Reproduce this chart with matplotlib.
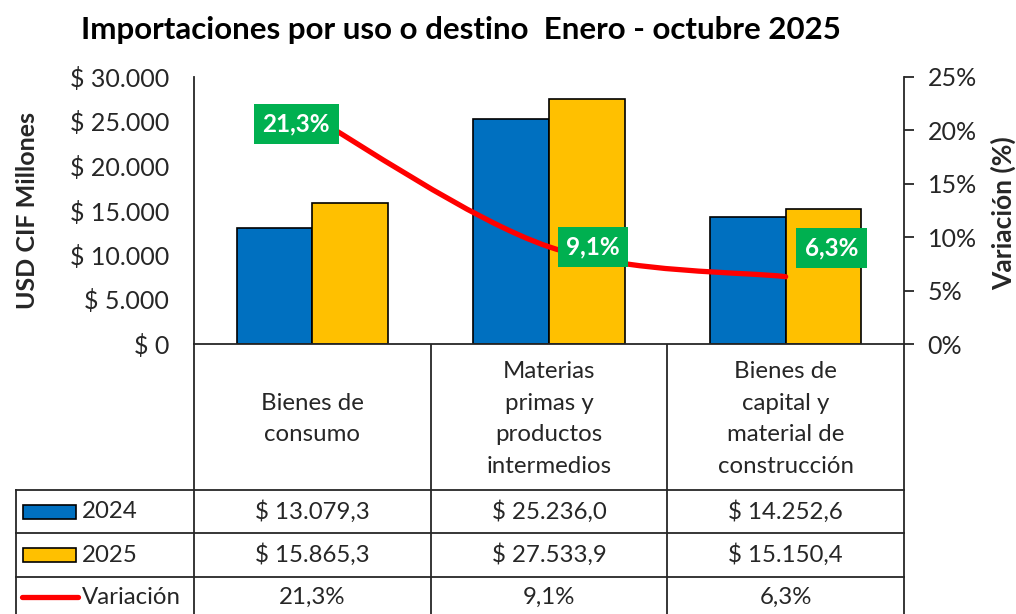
import numpy as np
import matplotlib
matplotlib.use('Agg')
import matplotlib.pyplot as plt
from matplotlib.path import Path
from matplotlib.patches import PathPatch, Rectangle
from matplotlib.ticker import FuncFormatter

plt.rcParams['font.family'] = ['Lato', 'DejaVu Sans']

# Data
categories = ['Bienes de\nconsumo', 'Materias\nprimas y\nproductos\nintermedios',
              'Bienes de\ncapital y\nmaterial de\nconstrucción']
series_names = ['2024', '2025']
values_2024 = [13079.3, 25236.0, 14252.6]
values_2025 = [15865.3, 27533.9, 15150.4]
variacion = [21.3, 9.1, 6.3]
var_label = 'Variación'
title = 'Importaciones por uso o destino  Enero - octubre 2025'

BLUE = '#0070C0'
YELLOW = '#FFC000'
RED = '#FF0000'
GREEN = '#00B050'
TXT = '#262626'

W, H = 1016, 614
fig = plt.figure(figsize=(W / 100, H / 100), dpi=100)

# plot area in pixels
pl, pr, pt, pb = 194, 904, 77, 344
ax = fig.add_axes([pl / W, 1 - pb / H, (pr - pl) / W, (pb - pt) / H])
ax2 = ax.twinx()

x = np.arange(len(categories))
bw = 0.32
ax.bar(x - bw / 2, values_2024, bw, color=BLUE, edgecolor='black', linewidth=1.2, zorder=2)
ax.bar(x + bw / 2, values_2025, bw, color=YELLOW, edgecolor='black', linewidth=1.2, zorder=2)
ax.set_xlim(-0.5, len(categories) - 0.5)
ax.set_ylim(0, 30000)
ax.set_yticks(np.arange(0, 30001, 5000))


def money(v, pos=None):
    return '$ ' + f'{v:,.0f}'.replace(',', '.')


def money1(v):
    return '$ ' + f'{v:,.1f}'.replace(',', 'X').replace('.', ',').replace('X', '.')


ax.yaxis.set_major_formatter(FuncFormatter(money))
ax.tick_params(axis='y', length=0, pad=18, labelsize=18, colors=TXT)
ax.set_xticks([])

ax.spines['top'].set_visible(False)
ax2.spines['top'].set_visible(False)
ax2.spines['left'].set_visible(False)
ax2.spines['bottom'].set_visible(False)
ax.spines['right'].set_visible(False)
for a in (ax, ax2):
    for s in a.spines.values():
        s.set_linewidth(1.3)
        s.set_color(TXT)

ax2.set_ylim(0, 25)
ax2.set_yticks(np.arange(0, 26, 5))
ax2.yaxis.set_major_formatter(FuncFormatter(lambda v, p: f'{v:.0f}%'))
ax2.tick_params(axis='y', direction='out', length=7, width=1.3, pad=10,
                labelsize=18, colors=TXT)

# smoothed variation line (Catmull-Rom style bezier like Excel)
pts = np.column_stack([x, variacion]).astype(float)
n = len(pts)
verts = [pts[0]]
codes = [Path.MOVETO]
for i in range(n - 1):
    p_prev = pts[max(i - 1, 0)]
    p_next = pts[min(i + 2, n - 1)]
    c1 = pts[i] + (pts[i + 1] - p_prev) / 6
    c2 = pts[i + 1] - (p_next - pts[i]) / 6
    verts += [c1, c2, pts[i + 1]]
    codes += [Path.CURVE4] * 3
ax2.add_patch(PathPatch(Path(verts, codes), facecolor='none', edgecolor=RED,
                        linewidth=3.8, capstyle='round', zorder=3))

label_offsets = [(-11.5, -5.4), (31.7, 0), (33, 21)]
for xi, v, off in zip(x, variacion, label_offsets):
    ax2.annotate(f'{v:.1f}%'.replace('.', ','), (xi, v), xytext=off,
                 textcoords='offset points', ha='center', va='center',
                 fontsize=17.5, fontweight='bold', color='white', zorder=5,
                 bbox=dict(boxstyle='square,pad=0.35', facecolor=GREEN, edgecolor='none'))

# Titles
fig.text(461 / W, 1 - 30 / H, title, ha='center', va='center', fontsize=22.5,
         fontweight='bold', color='black')
fig.text(28 / W, 1 - 211 / H, 'USD CIF Millones', ha='center', va='center',
         rotation=90, fontsize=18, fontweight='bold', color=TXT)
fig.text(1003 / W, 1 - 213 / H, 'Variación (%)', ha='center', va='center',
         rotation=90, fontsize=19, fontweight='bold', color=TXT)

# Data table (pixel coordinates)
tab = fig.add_axes([0, 0, 1, 1], zorder=-1)
tab.set_xlim(0, W)
tab.set_ylim(H, 0)
tab.axis('off')
lc = TXT
lw = 1.3
tl = 16
rows_y = [490, 533, 577, 621]
col_w = (pr - pl) / len(categories)
col_x = [pl + i * col_w for i in range(len(categories) + 1)]

tab.plot([pl, pl], [pb, H], color=lc, lw=lw)
tab.plot([pr, pr], [pb, H], color=lc, lw=lw)
for cx in col_x[1:-1]:
    tab.plot([cx, cx], [pb, H], color=lc, lw=lw)
tab.plot([tl, tl], [rows_y[0], H], color=lc, lw=lw)
for ry in rows_y[:-1]:
    tab.plot([tl, pr], [ry, ry], color=lc, lw=lw)

fs = 17.3
for i, cat in enumerate(categories):
    cx = (col_x[i] + col_x[i + 1]) / 2
    tab.text(cx, (pb + rows_y[0]) / 2 + 2, cat, ha='center', va='center',
             fontsize=fs, color=TXT, linespacing=1.63)
    tab.text(cx, (rows_y[0] + rows_y[1]) / 2, money1(values_2024[i]),
             ha='center', va='center', fontsize=fs, color=TXT)
    tab.text(cx, (rows_y[1] + rows_y[2]) / 2, money1(values_2025[i]),
             ha='center', va='center', fontsize=fs, color=TXT)
    tab.text(cx, (rows_y[2] + rows_y[3]) / 2 - 2, f'{variacion[i]:.1f}%'.replace('.', ','),
             ha='center', va='center', fontsize=fs, color=TXT)

# legend keys
for j, (name, col) in enumerate(zip(series_names, [BLUE, YELLOW])):
    cy = (rows_y[j] + rows_y[j + 1]) / 2
    tab.add_patch(Rectangle((23, cy - 7), 53, 14, facecolor=col, edgecolor='black', lw=1.2))
    tab.text(82, cy, name, ha='left', va='center', fontsize=fs, color=TXT)
cy = (rows_y[2] + rows_y[3]) / 2 - 2
tab.plot([22, 78], [cy, cy], color=RED, lw=3.8, solid_capstyle='round')
tab.text(82, cy, var_label, ha='left', va='center', fontsize=fs, color=TXT)

fig.savefig('out.png', dpi=100)
